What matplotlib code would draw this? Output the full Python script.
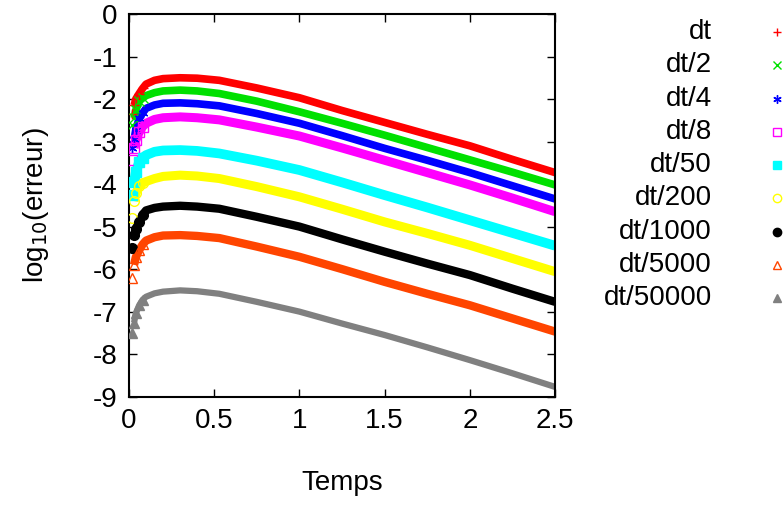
import matplotlib
matplotlib.use('Agg')
import matplotlib.pyplot as plt
from matplotlib.lines import Line2D

plt.rcParams['font.family'] = ['Liberation Sans', 'DejaVu Sans']

# Data (log10 of the error vs time)
# --------------
temps = [0.02, 0.03, 0.04, 0.06, 0.08, 0.1, 0.15, 0.2, 0.3, 0.4, 0.53,
         0.75, 1.0, 1.25, 1.5, 1.75, 2.0, 2.25, 2.5]

labels = ['dt', 'dt/2', 'dt/4', 'dt/8', 'dt/50', 'dt/200', 'dt/1000',
          'dt/5000', 'dt/50000']

err_dt = [-2.35, -2.15, -2.0, -1.87, -1.75, -1.65, -1.56, -1.52, -1.50, -1.51,
          -1.56, -1.74, -1.97, -2.27, -2.55, -2.83, -3.10, -3.42, -3.73]
err_dt2 = [-2.6, -2.45, -2.26, -2.05, -1.98, -1.92, -1.85, -1.81, -1.79, -1.81,
           -1.87, -2.05, -2.30, -2.57, -2.85, -3.14, -3.43, -3.72, -4.02]
err_dt4 = [-3.15, -2.95, -2.72, -2.45, -2.33, -2.22, -2.14, -2.10, -2.09, -2.11,
           -2.16, -2.34, -2.57, -2.86, -3.16, -3.44, -3.73, -4.04, -4.35]
err_dt8 = [-3.44, -3.15, -2.97, -2.78, -2.65, -2.57, -2.48, -2.44, -2.42, -2.44,
           -2.49, -2.66, -2.87, -3.15, -3.44, -3.73, -4.02, -4.33, -4.65]
err_dt50 = [-4.25, -3.95, -3.72, -3.48, -3.38, -3.32, -3.24, -3.21, -3.20, -3.22,
            -3.28, -3.45, -3.67, -3.96, -4.26, -4.55, -4.85, -5.15, -5.45]
err_dt200 = [-4.80, -4.40, -4.22, -4.05, -3.98, -3.94, -3.87, -3.82, -3.79, -3.81,
             -3.87, -4.06, -4.30, -4.59, -4.89, -5.16, -5.44, -5.75, -6.06]
err_dt1000 = [-5.50, -5.20, -5.05, -4.89, -4.72, -4.62, -4.56, -4.53, -4.51, -4.53,
              -4.58, -4.77, -5.00, -5.30, -5.59, -5.87, -6.14, -6.46, -6.77]
err_dt5000 = [-6.20, -5.90, -5.72, -5.55, -5.42, -5.33, -5.25, -5.21, -5.20, -5.22,
              -5.27, -5.47, -5.71, -6.00, -6.30, -6.58, -6.85, -7.16, -7.47]
err_dt50000 = [-7.50, -7.26, -7.04, -6.85, -6.72, -6.65, -6.57, -6.53, -6.50, -6.52,
               -6.58, -6.77, -7.00, -7.28, -7.55, -7.84, -8.14, -8.45, -8.77]

series = [err_dt, err_dt2, err_dt4, err_dt8, err_dt50, err_dt200, err_dt1000,
          err_dt5000, err_dt50000]

# gnuplot-like styles
colors = ['#ff0000', '#00e000', '#0000ff', '#ff00ff', '#00ffff', '#ffff00',
          '#000000', '#ff4500', '#808080']
markers = ['+', 'x', (6, 2, 0), 's', 's', 'o', 'o', '^', '^']
filled = [True, True, True, False, True, False, True, False, True]
widths = [5.5, 5.5, 5.5, 6.5, 7.0, 6.5, 6.0, 6.0, 4.5]
n_start = 5  # separate markers only visible in the steep start

# Figure
# --------------
fig = plt.figure(figsize=(7.84, 5.07), dpi=100)
ax = fig.add_axes([0.1645, 0.2176, 0.5435, 0.7548])

for y, c, m, f, w in zip(series, colors, markers, filled, widths):
    ax.plot(temps[1:], y[1:], '-', color=c, linewidth=w,
            solid_capstyle='butt', solid_joinstyle='round', zorder=2)
    ax.plot(temps[:n_start], y[:n_start], linestyle='none', marker=m,
            markersize=7, markerfacecolor=c if f else 'none',
            markeredgecolor=c, markeredgewidth=1.0, zorder=3)

ax.set_xlim(0, 2.5)
ax.set_ylim(-9, 0)
ax.set_xticks([0, 0.5, 1, 1.5, 2, 2.5])
ax.set_xticklabels(['0', '0.5', '1', '1.5', '2', '2.5'])
ax.set_yticks(range(-9, 1))
ax.set_yticklabels(['-9', '-8', '-7', '-6', '-5', '-4', '-3', '-2', '-1', '0'])
ax.tick_params(direction='in', length=6, width=1, top=True, right=True,
               labelsize=20, pad=8, colors='black')
for s in ax.spines.values():
    s.set_linewidth(1.5)

ax.set_xlabel('Temps', fontsize=20, labelpad=26)
ax.set_ylabel('log$_{10}$(erreur)', fontsize=20, labelpad=30)

# Legend drawn gnuplot style: text on the left, sample on the right
y0, step = 1 - 32 / 507, 33.3 / 507
for i, (lab, c, m, f) in enumerate(zip(labels, colors, markers, filled)):
    yy = y0 - i * step
    fig.text(712 / 784, yy, lab, ha='right', va='center', fontsize=20)
    fig.add_artist(Line2D([777 / 784], [yy], transform=fig.transFigure,
                          marker=m, markersize=6, linestyle='none',
                          markerfacecolor=c if f else 'none',
                          markeredgecolor=c, markeredgewidth=1.0))

fig.savefig('out.png', dpi=100, facecolor='white')
